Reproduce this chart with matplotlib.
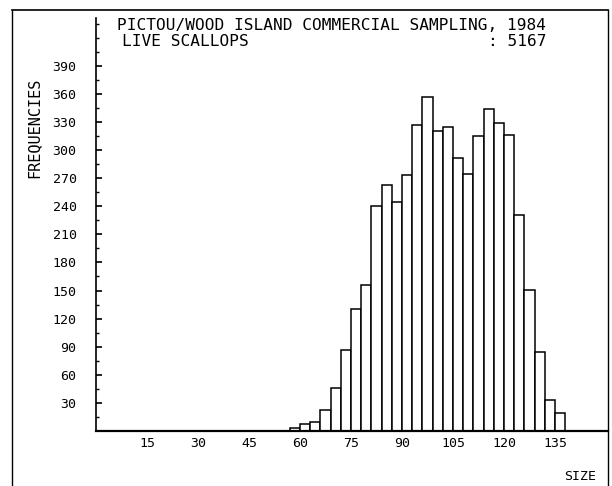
import matplotlib
matplotlib.use("Agg")
import matplotlib.pyplot as plt
from matplotlib.lines import Line2D
import numpy as np

# ---- data ----
bin_width = 3
bin_starts = list(range(57, 138, 3))
frequencies = [3, 7, 10, 22, 46, 86, 130, 156, 240, 263, 244, 273, 327, 357,
               320, 325, 292, 274, 315, 344, 329, 316, 231, 151, 84, 33, 19]
x_ticks = [15, 30, 45, 60, 75, 90, 105, 120, 135]
y_major = list(range(30, 391, 30))
y_minor = [15, 45, 75, 105, 135, 165, 195, 225, 255, 285, 315, 345, 375, 405, 420, 435]
title_line1 = "PICTOU/WOOD ISLAND COMMERCIAL SAMPLING, 1984"
title_line2 = "LIVE SCALLOPS"
count_text = ": 5167"
xlabel = "SIZE"
ylabel = "FREQUENCIES"

W, H = 612, 486
fig = plt.figure(figsize=(W / 100, H / 100), dpi=100)
font = "DejaVu Sans Mono"

ax = fig.add_axes([96 / W, 1 - 431 / H, (608 - 96) / W, (431 - 18) / H])
ax.bar(bin_starts, frequencies, width=bin_width, align="edge",
       facecolor="white", edgecolor="black", linewidth=1.1)
ax.set_xlim(0, 150.6)
ax.set_ylim(0, 441)

for s in ["top", "right"]:
    ax.spines[s].set_visible(False)
ax.spines["left"].set_linewidth(1.2)
ax.spines["bottom"].set_linewidth(1.6)

ax.set_xticks(x_ticks)
ax.set_xticklabels([str(v) for v in x_ticks], fontfamily=font, fontsize=9.5)
ax.tick_params(axis="x", length=0, pad=4)

ax.set_yticks(y_major)
ax.set_yticklabels([str(v) for v in y_major], fontfamily=font, fontsize=9.5)
ax.set_yticks(y_minor, minor=True)
ax.tick_params(axis="y", which="major", direction="in", length=4, width=1.2, pad=14)
ax.tick_params(axis="y", which="minor", direction="in", length=2.5, width=1.0)

# texts
fig.text(117 / W, 1 - 26 / H, title_line1, fontfamily=font, fontsize=11.6,
         ha="left", va="center")
fig.text(122 / W, 1 - 42 / H, title_line2, fontfamily=font, fontsize=11.6,
         ha="left", va="center")
fig.text(546 / W, 1 - 42 / H, count_text, fontfamily=font, fontsize=11.6,
         ha="right", va="center")
fig.text(34 / W, 1 - 128 / H, ylabel, fontfamily=font, fontsize=11,
         rotation=90, ha="center", va="center")
fig.text(580 / W, 1 - 476 / H, xlabel, fontfamily=font, fontsize=9.5,
         ha="center", va="center")

# outer frame
fx0, fx1 = 12 / W, 608 / W
fy_top = 1 - 10 / H
fig.add_artist(Line2D([fx0, fx0], [0, fy_top], transform=fig.transFigure,
                      color="black", linewidth=1.0))
fig.add_artist(Line2D([fx0, fx1], [fy_top, fy_top], transform=fig.transFigure,
                      color="black", linewidth=1.2))
fig.add_artist(Line2D([fx1, fx1], [0, fy_top], transform=fig.transFigure,
                      color="black", linewidth=1.0))

fig.savefig("out.png", dpi=100)
